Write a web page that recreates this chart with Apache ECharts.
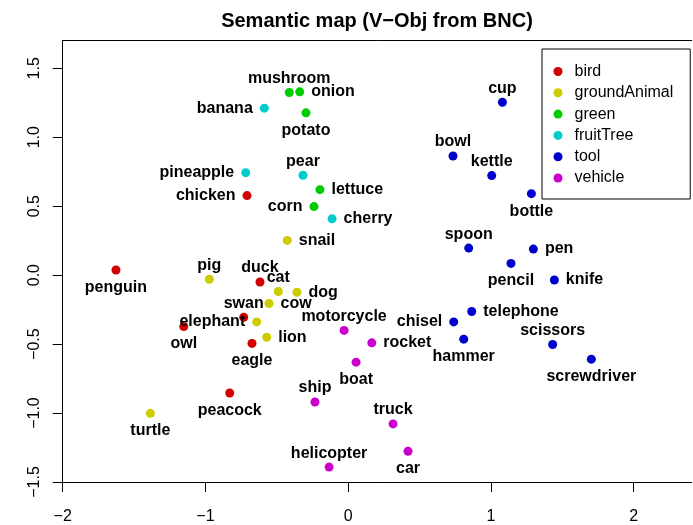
<!DOCTYPE html>
<html>
<head>
<meta charset="utf-8">
<script src="https://cdn.jsdelivr.net/npm/echarts@6/dist/echarts.min.js"></script>
<style>
  html, body { margin: 0; padding: 0; background: #fff; }
  #chart { width: 693px; height: 525px; }
</style>
</head>
<body>
<div id="chart"></div>
<script>
// Semantic classes and their colours
const categories = ['bird', 'groundAnimal', 'green', 'fruitTree', 'tool', 'vehicle'];
const classColors = ['#D20000', '#CCCC00', '#00CC00', '#00CCCC', '#0000CC', '#CC00CC'];

// Nouns with their 2-D coordinates and semantic class
const words = [
  'penguin', 'duck', 'swan', 'owl', 'eagle', 'peacock', 'chicken',
  'pig', 'cat', 'dog', 'cow', 'elephant', 'lion', 'turtle', 'snail',
  'mushroom', 'onion', 'potato', 'lettuce', 'corn',
  'banana', 'pineapple', 'pear', 'cherry',
  'cup', 'bowl', 'kettle', 'bottle', 'spoon', 'pen', 'pencil', 'knife',
  'telephone', 'chisel', 'hammer', 'scissors', 'screwdriver',
  'motorcycle', 'rocket', 'boat', 'ship', 'truck', 'car', 'helicopter'
];
const xValues = [
  -1.627, -0.618, -0.732, -1.152, -0.674, -0.830, -0.709,
  -0.973, -0.490, -0.359, -0.555, -0.641, -0.571, -1.386, -0.427,
  -0.413, -0.340, -0.296, -0.198, -0.240,
  -0.588, -0.718, -0.317, -0.113,
  1.080, 0.734, 1.005, 1.283, 0.844, 1.297, 1.140, 1.444,
  0.865, 0.739, 0.809, 1.432, 1.703,
  -0.029, 0.165, 0.055, -0.233, 0.314, 0.419, -0.134
];
const yValues = [
  0.037, -0.050, -0.305, -0.373, -0.495, -0.855, 0.577,
  -0.030, -0.119, -0.124, -0.206, -0.339, -0.450, -1.002, 0.252,
  1.324, 1.329, 1.177, 0.620, 0.497,
  1.211, 0.743, 0.724, 0.408,
  1.254, 0.864, 0.722, 0.591, 0.196, 0.189, 0.085, -0.035,
  -0.264, -0.339, -0.464, -0.503, -0.609,
  -0.401, -0.491, -0.631, -0.920, -1.079, -1.277, -1.392
];
const wordClass = [
  'bird', 'bird', 'bird', 'bird', 'bird', 'bird', 'bird',
  'groundAnimal', 'groundAnimal', 'groundAnimal', 'groundAnimal', 'groundAnimal', 'groundAnimal', 'groundAnimal', 'groundAnimal',
  'green', 'green', 'green', 'green', 'green',
  'fruitTree', 'fruitTree', 'fruitTree', 'fruitTree',
  'tool', 'tool', 'tool', 'tool', 'tool', 'tool', 'tool', 'tool',
  'tool', 'tool', 'tool', 'tool', 'tool',
  'vehicle', 'vehicle', 'vehicle', 'vehicle', 'vehicle', 'vehicle', 'vehicle'
];
// Which side of its point each word is written on
const labelSide = [
  'bottom', 'top', 'top', 'bottom', 'bottom', 'bottom', 'left',
  'top', 'top', 'right', 'right', 'left', 'right', 'bottom', 'right',
  'top', 'right', 'bottom', 'right', 'left',
  'left', 'left', 'top', 'right',
  'top', 'top', 'top', 'bottom', 'top', 'right', 'bottom', 'right',
  'right', 'left', 'bottom', 'top', 'bottom',
  'top', 'right', 'bottom', 'top', 'top', 'bottom', 'top'
];

const xTicks = [-2, -1, 0, 1, 2];
const yTicks = [-1.5, -1.0, -0.5, 0.0, 0.5, 1.0, 1.5];

const FONT = 'Liberation Sans, Arial, Helvetica, sans-serif';
const minus = s => s.replace('-', '\u2212');
const sideDistance = { top: 1.5, bottom: 5, left: 7, right: 7 };

const series = categories.map((cat, ci) => ({
  name: cat,
  type: 'scatter',
  symbol: 'circle',
  symbolSize: 9,
  itemStyle: { color: classColors[ci], opacity: 1 },
  label: {
    show: true,
    formatter: p => p.name,
    color: '#000',
    fontFamily: FONT,
    fontWeight: 'bold',
    fontSize: 16
  },
  emphasis: { disabled: true },
  data: words
    .map((w, i) => ({ w, i }))
    .filter(d => wordClass[d.i] === cat)
    .map(d => ({
      name: d.w,
      value: [xValues[d.i], yValues[d.i]],
      label: { position: labelSide[d.i], distance: sideDistance[labelSide[d.i]] }
    }))
}));

const chart = echarts.init(document.getElementById('chart'), null, { renderer: 'canvas' });
chart.setOption({
  animation: false,
  backgroundColor: '#fff',
  title: {
    text: 'Semantic map (V\u2212Obj from BNC)',
    left: 377,
    top: 11,
    padding: 0,
    textAlign: 'center',
    textStyle: { fontFamily: FONT, fontWeight: 'bold', fontSize: 20, color: '#000' }
  },
  legend: {
    orient: 'vertical',
    left: 542,
    top: 49,
    padding: [14.5, 17, 13, 11.5],
    borderColor: '#000',
    borderWidth: 1,
    icon: 'circle',
    itemWidth: 9,
    itemHeight: 9,
    itemGap: 5.3,
    selectedMode: false,
    data: categories,
    textStyle: { fontFamily: FONT, fontSize: 16, color: '#000', lineHeight: 16, padding: [0, 0, 0, 7] }
  },
  grid: { left: 62.7, right: 1.3, top: 40.7, bottom: 41.7, show: false },
  xAxis: [{
    type: 'value',
    min: -2,
    max: 2.406,
    position: 'bottom',
    splitLine: { show: false },
    axisLine: { show: true, onZero: false, lineStyle: { color: '#000', width: 1 } },
    axisTick: { show: true, inside: false, length: 10, customValues: xTicks, lineStyle: { color: '#000' } },
    axisLabel: {
      customValues: xTicks,
      margin: 27,
      fontFamily: FONT,
      fontSize: 16,
      color: '#000',
      formatter: v => minus(String(v))
    }
  }, {
    type: 'value',
    min: -2,
    max: 2.406,
    position: 'top',
    splitLine: { show: false },
    axisLine: { show: true, onZero: false, lineStyle: { color: '#000', width: 1 } },
    axisTick: { show: false },
    axisLabel: { show: false }
  }],
  yAxis: {
    type: 'value',
    min: -1.5,
    max: 1.70,
    splitLine: { show: false },
    axisLine: { show: true, onZero: false, lineStyle: { color: '#000', width: 1 } },
    axisTick: { show: true, inside: false, length: 10, customValues: yTicks, lineStyle: { color: '#000' } },
    axisLabel: {
      customValues: yTicks,
      rotate: 90,
      margin: 20,
      fontFamily: FONT,
      fontSize: 16,
      color: '#000',
      formatter: v => minus(v.toFixed(1))
    }
  },
  series: series
});
</script>
</body>
</html>
